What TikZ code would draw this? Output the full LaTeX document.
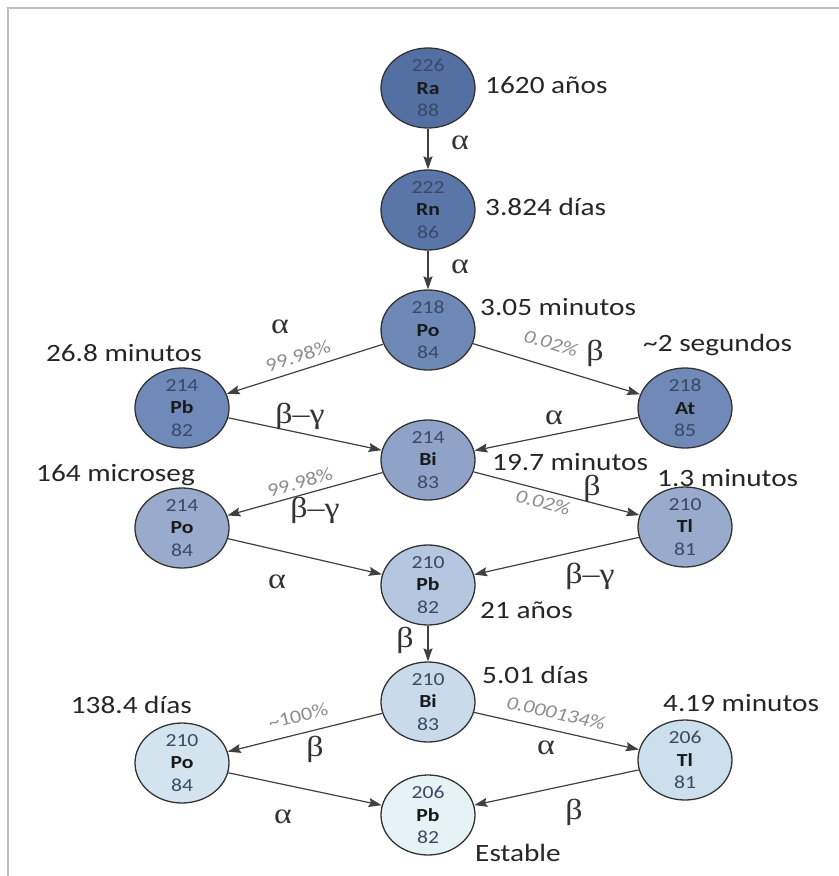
\documentclass[tikz,border=0pt]{standalone}
\usepackage{fontspec}
\setmainfont{Carlito}
\newfontfamily\grkfont{Liberation Serif}
\usetikzlibrary{positioning,arrows.meta}

\definecolor{raC}{HTML}{5470A3}
\definecolor{rnC}{HTML}{5A76A8}
\definecolor{poAC}{HTML}{6F89B7}
\definecolor{pbAC}{HTML}{6F89B9}
\definecolor{atC}{HTML}{7089B7}
\definecolor{biAC}{HTML}{8FA3C9}
\definecolor{poBC}{HTML}{98ABCC}
\definecolor{tlAC}{HTML}{98ABCC}
\definecolor{pbBC}{HTML}{B5C6E0}
\definecolor{biBC}{HTML}{C9DAEA}
\definecolor{poCC}{HTML}{D4E4EF}
\definecolor{tlBC}{HTML}{CCDFEC}
\definecolor{pbCC}{HTML}{E6F3F6}
\definecolor{numC}{HTML}{3A4A66}

\tikzset{
  nuc/.style={circle, draw=black!80, line width=1.3pt, minimum size=80bp, inner sep=0pt, xscale=1.175, align=center, font=\fontsize{18.5}{22.5}\selectfont, text=numC},
  tm/.style={inner sep=0pt, xscale=1.175, font=\fontsize{25}{28}\selectfont, text=black!85},
  dec/.style={inner sep=0pt, xscale=1.175, font=\grkfont\fontsize{29}{30}\selectfont, text=black!80},
  pct/.style={inner sep=0pt, xscale=1.175, font=\fontsize{19}{20}\selectfont, text=black!45},
  decay/.style={-{Stealth[length=13bp,width=9bp,inset=2bp]}, draw=black!75, line width=1.2pt},
}
\newcommand{\iso}[3]{#1\\{\color{black!90}\bfseries #2}\\#3}

\begin{document}
\begin{tikzpicture}[x=1bp,y=-1bp]
  \fill[white] (0,0) rectangle (839,876);
  \useasboundingbox (0,0) rectangle (839,876);
  \draw[black!25, line width=2bp] (8,876) |- (839,8);

  % nuclides
  \node[nuc, fill=raC]  (ra226) at (428,88)  {\iso{226}{Ra}{88}};
  \node[nuc, fill=rnC]  (rn222) at (428,210) {\iso{222}{Rn}{86}};
  \node[nuc, fill=poAC] (po218) at (428,330) {\iso{218}{Po}{84}};
  \node[nuc, fill=pbAC] (pb214) at (182,408) {\iso{214}{Pb}{82}};
  \node[nuc, fill=atC]  (at218) at (685,408) {\iso{218}{At}{85}};
  \node[nuc, fill=biAC] (bi214) at (428,460) {\iso{214}{Bi}{83}};
  \node[nuc, fill=poBC] (po214) at (182,528) {\iso{214}{Po}{84}};
  \node[nuc, fill=tlAC] (tl210) at (685,527) {\iso{210}{Tl}{81}};
  \node[nuc, fill=pbBC] (pb210) at (428,585) {\iso{210}{Pb}{82}};
  \node[nuc, fill=biBC] (bi210) at (428,702) {\iso{210}{Bi}{83}};
  \node[nuc, fill=poCC] (po210) at (182,763) {\iso{210}{Po}{84}};
  \node[nuc, fill=tlBC] (tl206) at (685,760) {\iso{206}{Tl}{81}};
  \node[nuc, fill=pbCC] (pb206) at (428,815) {\iso{206}{Pb}{82}};

  % half-lives
  \node[tm, anchor=west] (tRa) at (485,85)  {1620 años};
  \node[tm, anchor=west] (tRn) at (485,207) {3.824 días};
  \node[tm, anchor=west] (tPoA) at (480,307) {3.05 minutos};
  \node[tm, anchor=east] (tPbA) at (202,353) {26.8 minutos};
  \node[tm, anchor=west] (tAt) at (643,345) {\textasciitilde2 segundos};
  \node[tm, anchor=west] (tBiA) at (492,462) {19.7 minutos};
  \node[tm, anchor=east] (tPoB) at (195,475) {164 microseg};
  \node[tm, anchor=west] (tTlA) at (657,478) {1.3 minutos};
  \node[tm, anchor=west] (tPbB) at (480,610) {21 años};
  \node[tm, anchor=west] (tBiB) at (482,675) {5.01 días};
  \node[tm, anchor=east] (tPoC) at (192,705) {138.4 días};
  \node[tm, anchor=west] (tTlB) at (663,703) {4.19 minutos};
  \node[tm, anchor=west] (tPbC) at (475,853) {Estable};

  % decays
  \draw[decay] (ra226) -- (rn222);
  \draw[decay] (rn222) -- (po218);
  \draw[decay] (po218) -- (pb214);
  \draw[decay] (po218) -- (at218);
  \draw[decay] (pb214) -- (bi214);
  \draw[decay] (at218) -- (bi214);
  \draw[decay] (bi214) -- (po214);
  \draw[decay] (bi214) -- (tl210);
  \draw[decay] (po214) -- (pb210);
  \draw[decay] (tl210) -- (pb210);
  \draw[decay] (pb210) -- (bi210);
  \draw[decay] (bi210) -- (po210);
  \draw[decay] (bi210) -- (tl206);
  \draw[decay] (po210) -- (pb206);
  \draw[decay] (tl206) -- (pb206);

  % decay modes
  \node[dec] (m1)  at (460,143) {α};
  \node[dec] (m2)  at (460,267) {α};
  \node[dec] (m3)  at (280,327) {α};
  \node[dec] (m4)  at (595,353) {β};
  \node[dec] (m5)  at (300,416) {β–γ};
  \node[dec] (m6)  at (554,418) {α};
  \node[dec] (m7)  at (315,510) {β–γ};
  \node[dec] (m8)  at (592,488) {β};
  \node[dec] (m9)  at (277,582) {α};
  \node[dec] (m10) at (590,576) {β–γ};
  \node[dec] (m11) at (405,640) {β};
  \node[dec] (m12) at (315,749) {β};
  \node[dec] (m13) at (546,748) {α};
  \node[dec] (m14) at (283,817) {α};
  \node[dec] (m15) at (574,812) {β};

  % branching ratios
  \node[rotate=17.6, pct] (b1) at (298,356) {99.98\%};
  \node[rotate=-16.9, pct, font=\fontsize{19}{20}\selectfont\itshape] (b2) at (551,343) {0.02\%};
  \node[rotate=15.5, pct] (b3) at (300,482) {99.98\%};
  \node[rotate=-14.6, pct, font=\fontsize{19}{20}\selectfont\itshape] (b4) at (543,502) {0.02\%};
  \node[rotate=14, pct] (b5) at (298,716) {\textasciitilde100\%};
  \node[rotate=-12.7, pct, font=\fontsize{19}{20}\selectfont\itshape] (b6) at (556,713) {0.000134\%};
\end{tikzpicture}
\end{document}
